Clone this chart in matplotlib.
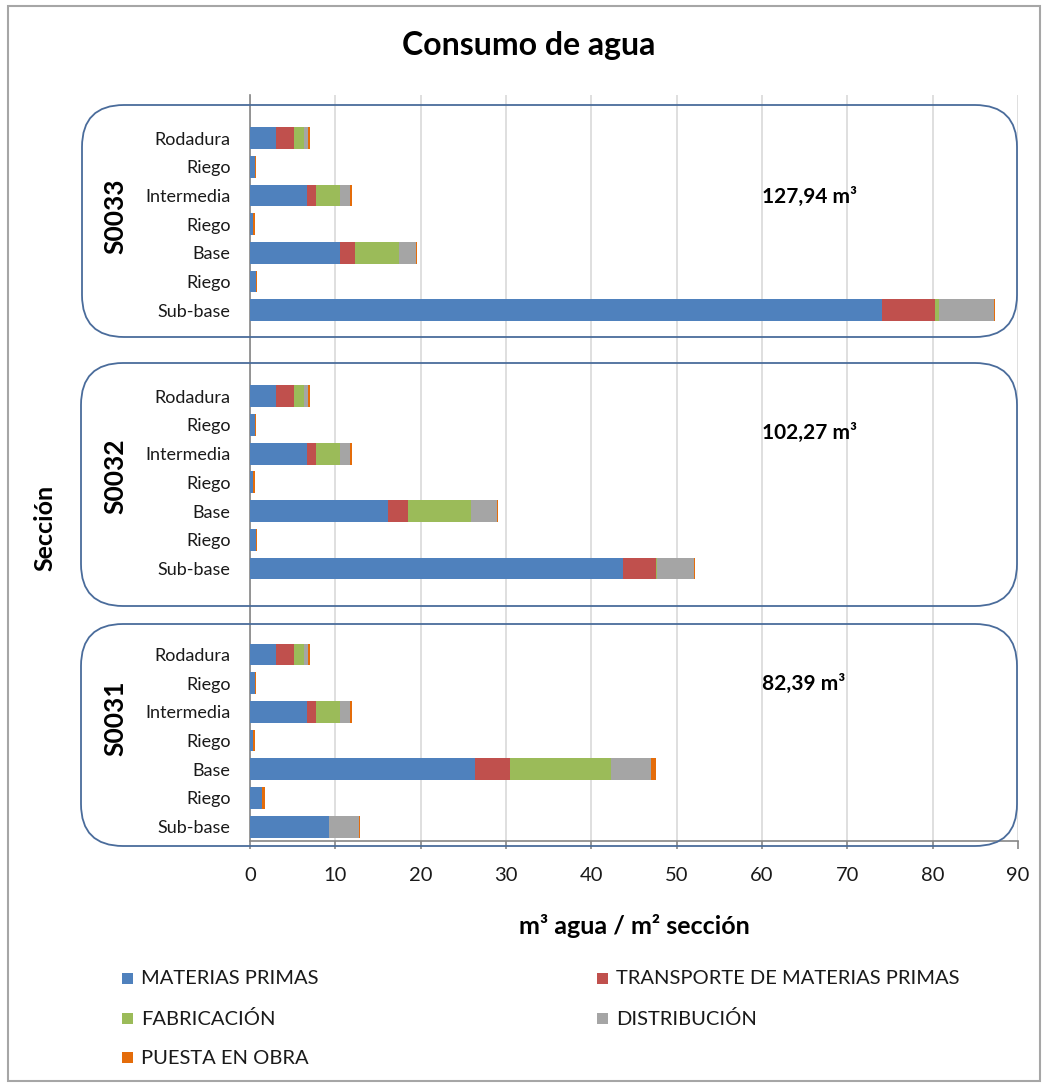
import matplotlib
matplotlib.use("Agg")
import matplotlib.pyplot as plt
from matplotlib.patches import FancyBboxPatch, Rectangle
from matplotlib.transforms import IdentityTransform
import numpy as np

plt.rcParams["font.family"] = ["Lato", "DejaVu Sans"]

# Sections (top to bottom) and pavement layers within each section
sections = ["S0033", "S0032", "S0031"]
layers = ["Rodadura", "Riego", "Intermedia", "Riego", "Base", "Riego", "Sub-base"]

series_names = ["MATERIAS PRIMAS", "TRANSPORTE DE MATERIAS PRIMAS",
                "FABRICACIÓN", "DISTRIBUCIÓN", "PUESTA EN OBRA"]
series_colors = ["#4F81BD", "#C0504D", "#9BBB59", "#A5A5A5", "#E46C0A"]

# m3 water / m2 section, one row per section, values per layer
materias_primas = [
    [3.05, 0.60, 6.70, 0.40, 10.55, 0.70, 74.10],
    [3.05, 0.60, 6.70, 0.40, 16.15, 0.70, 43.70],
    [3.05, 0.60, 6.70, 0.40, 26.39, 1.40, 9.20],
]
transporte = [
    [2.05, 0.00, 1.00, 0.00, 1.72, 0.00, 6.20],
    [2.05, 0.00, 1.00, 0.00, 2.40, 0.00, 3.90],
    [2.05, 0.00, 1.00, 0.00, 4.05, 0.00, 0.00],
]
fabricacion = [
    [1.20, 0.00, 2.90, 0.00, 5.20, 0.00, 0.45],
    [1.20, 0.00, 2.90, 0.00, 7.35, 0.00, 0.10],
    [1.20, 0.00, 2.90, 0.00, 11.90, 0.00, 0.00],
]
distribucion = [
    [0.55, 0.00, 1.10, 0.00, 2.00, 0.00, 6.45],
    [0.55, 0.00, 1.10, 0.00, 3.05, 0.00, 4.35],
    [0.55, 0.00, 1.10, 0.00, 4.70, 0.05, 3.55],
]
puesta_en_obra = [
    [0.15, 0.10, 0.20, 0.15, 0.15, 0.12, 0.15],
    [0.15, 0.10, 0.20, 0.15, 0.15, 0.12, 0.15],
    [0.15, 0.10, 0.20, 0.15, 0.55, 0.30, 0.15],
]
x_ticks = [0, 10, 20, 30, 40, 50, 60, 70, 80, 90]

W, H = 1044, 1086
fig = plt.figure(figsize=(W / 100, H / 100), dpi=100)
fig.patch.set_facecolor("white")

ax = fig.add_axes([250 / W, 1 - 841 / H, 768 / W, 746 / H])

# each section occupies 7 category slots, separated by 2 empty slots
ypos = [1 + 9 * s + j for s in range(len(sections)) for j in range(len(layers))]
all_series = [materias_primas, transporte, fabricacion, distribucion, puesta_en_obra]
left = np.zeros(len(ypos))
for vals, col in zip(all_series, series_colors):
    v = np.array(vals, dtype=float).ravel()
    ax.barh(ypos, v, left=left, height=0.76, color=col, zorder=3)
    left += v

ax.set_ylim(25.5, -0.5)
ax.set_xlim(0, 90)
ax.set_yticks(ypos, layers * len(sections))
ax.set_xticks(x_ticks)
ax.grid(axis="x", color="#d9d9d9", lw=1.2, zorder=0)
ax.set_axisbelow(True)
for sp in ["top", "right"]:
    ax.spines[sp].set_visible(False)
for sp in ["left", "bottom"]:
    ax.spines[sp].set_color("#868686")
    ax.spines[sp].set_linewidth(1.2)
ax.tick_params(axis="y", length=0, pad=14, labelsize=13, labelcolor="#1a1a1a")
ax.tick_params(axis="x", length=6, color="#868686", width=1.2, pad=13,
               labelsize=14.5, labelcolor="#1a1a1a")

# totals per section
totals = [np.sum([np.sum(s[i]) for s in all_series]) for i in range(len(sections))]
total_y = [197, 433, 684]
for t, yy in zip(totals, total_y):
    txt = f"{t:.2f}".replace(".", ",") + " m³"
    fig.text(762 / W, 1 - yy / H, txt, weight="bold", size=15, ha="left", va="center")

# section labels
for name, yy in zip(sections, [216, 476, 718]):
    fig.text(115 / W, 1 - yy / H, name, weight="bold", size=19, rotation=90,
             ha="center", va="center")

# rounded frames around each section (pixel coordinates)
frames = [(82, 105, 1017, 337), (81, 363, 1017, 606), (81, 624, 1017, 846)]
for x0, y0, x1, y1 in frames:
    p = FancyBboxPatch((x0, H - y1), x1 - x0, y1 - y0,
                       boxstyle="round,pad=0,rounding_size=42",
                       transform=IdentityTransform(), fill=False,
                       ec="#4a6c9b", lw=1.3, zorder=5)
    fig.add_artist(p)

# outer chart border
fig.add_artist(Rectangle((8, H - 1081), 1032, 1075, transform=IdentityTransform(),
                         fill=False, ec="#a6a6a6", lw=1.5))

fig.text(529 / W, 1 - 45 / H, "Consumo de agua", weight="bold", size=23,
         ha="center", va="center")
fig.text(45 / W, 1 - 528 / H, "Sección", weight="bold", size=18, rotation=90,
         ha="center", va="center")
fig.text(634 / W, 1 - 926 / H, "m³ agua / m² sección", weight="bold", size=18,
         ha="center", va="center")

# legend, two columns
legend_pos = [(122, 979), (597, 979), (122, 1019), (597, 1019), (122, 1058)]
for (lx, ly), name, col in zip(legend_pos, series_names, series_colors):
    fig.add_artist(Rectangle((lx, H - ly - 5), 11, 11, transform=IdentityTransform(),
                             fc=col, ec="none"))
    fig.text((lx + 19) / W, 1 - ly / H, name, size=14.5, ha="left", va="center",
             color="#1a1a1a")

fig.savefig("out.png", dpi=100)
